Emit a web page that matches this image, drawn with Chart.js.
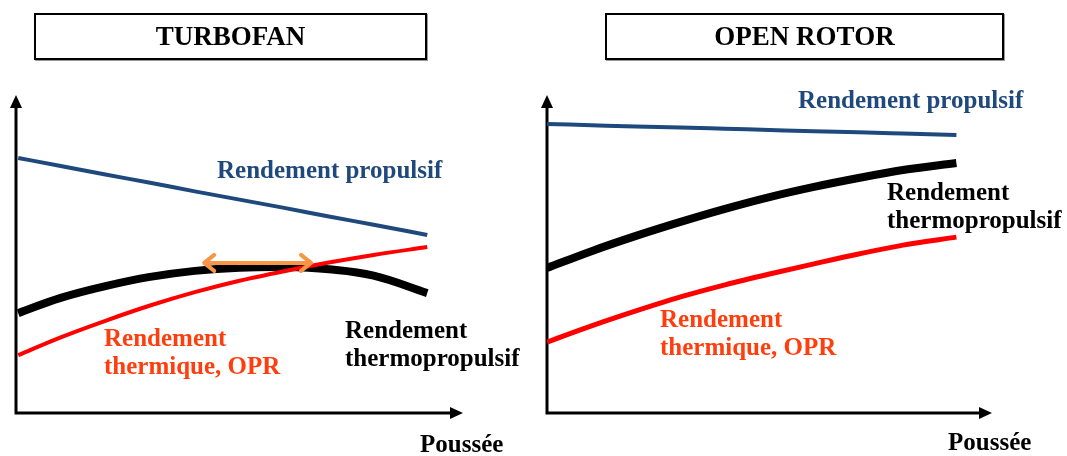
<!DOCTYPE html>
<html>
<head>
<meta charset="utf-8">
<script src="https://cdn.jsdelivr.net/npm/chart.js"></script>
<style>
  body { margin: 0; width: 1067px; height: 456px; overflow: hidden; background: #fff; position: relative; }
  canvas { position: absolute; top: 0; }
  .lbl { position: absolute; font-family: "Liberation Serif", "Times New Roman", serif; font-weight: bold; font-size: 25px; line-height: 28px; white-space: nowrap; }
  .box { position: absolute; top: 13px; height: 43px; border: 2px solid #000; display: flex; align-items: center; justify-content: center;
         font-family: "Liberation Serif", "Times New Roman", serif; font-weight: bold; font-size: 27px; box-shadow: 1px 1px 0 #999; }
</style>
</head>
<body>
<canvas id="turbofan" width="533" height="456" style="left:0"></canvas>
<canvas id="openRotor" width="534" height="456" style="left:533px"></canvas>

<div class="box" style="left:34px; width:389px;">TURBOFAN</div>
<div class="box" style="left:605px; width:395px;">OPEN ROTOR</div>

<div class="lbl" style="left:217px; top:156px; color:#1f497d;">Rendement propulsif</div>
<div class="lbl" style="left:104px; top:324px; color:#ff3d0d;">Rendement<br>thermique, OPR</div>
<div class="lbl" style="left:345px; top:316px; color:#000;">Rendement<br>thermopropulsif</div>
<div class="lbl" style="left:420px; top:430px; color:#000;">Poussée</div>

<div class="lbl" style="left:798px; top:86px; color:#1f497d;">Rendement propulsif</div>
<div class="lbl" style="left:887px; top:178px; color:#000;">Rendement<br>thermopropulsif</div>
<div class="lbl" style="left:660px; top:305px; color:#ff3d0d;">Rendement<br>thermique, OPR</div>
<div class="lbl" style="left:948px; top:428px; color:#000;">Poussée</div>

<script>
// poussée (arbitrary units 0-100) and efficiencies (0-100)
const poussee = [0.5, 10, 20, 30, 40, 50, 60, 70, 80, 92];

const tfPropulsif = [80.2, 77.7, 75.0, 72.4, 69.7, 67.1, 64.5, 61.8, 59.2, 56.0];
const tfThermique = [18.2, 23.8, 29.0, 33.8, 38.0, 41.6, 44.6, 47.3, 49.7, 52.2];
const tfThermoprop = [31.4, 36.2, 39.9, 42.8, 44.7, 45.7, 45.9, 45.2, 43.2, 37.7];

// optimum range arrow on the turbofan
const optimumX = [42.1, 66.0];
const optimumY = [47.2, 47.2];

const orPoussee = [0, 10, 20, 30, 40, 50, 60, 70, 80, 92];
const orPropulsif = [90.9, 90.5, 90.1, 89.8, 89.4, 89.0, 88.6, 88.3, 87.9, 87.4];
const orThermique = [22.3, 27.4, 32.1, 36.5, 40.3, 43.7, 46.9, 50.0, 52.8, 55.3];
const orThermoprop = [45.6, 50.9, 55.7, 60.1, 64.2, 67.9, 71.1, 73.9, 76.4, 78.6];

const pts = (xs, ys) => xs.map((x, i) => ({ x: x, y: ys[i] }));

// axes with arrow heads, drawn on the chart area edges
const arrowAxes = {
  id: "arrowAxes",
  beforeDatasetsDraw(chart) {
    const a = chart.chartArea;
    const ctx = chart.ctx;
    ctx.save();
    ctx.strokeStyle = "#000";
    ctx.fillStyle = "#000";
    ctx.lineWidth = 3;
    ctx.beginPath();
    ctx.moveTo(a.left, a.top + 10);
    ctx.lineTo(a.left, a.bottom);
    ctx.lineTo(a.right - 10, a.bottom);
    ctx.stroke();
    ctx.beginPath();
    ctx.moveTo(a.left, a.top);
    ctx.lineTo(a.left - 6, a.top + 13);
    ctx.lineTo(a.left + 6, a.top + 13);
    ctx.closePath();
    ctx.fill();
    ctx.beginPath();
    ctx.moveTo(a.right, a.bottom);
    ctx.lineTo(a.right - 13, a.bottom - 6);
    ctx.lineTo(a.right - 13, a.bottom + 6);
    ctx.closePath();
    ctx.fill();
    ctx.restore();
  },
  afterDatasetsDraw(chart) {
    const ctx = chart.ctx;
    chart.data.datasets.forEach((ds, i) => {
      if (!ds.doubleArrow) return;
      const p = chart.getDatasetMeta(i).data;
      const a = p[0], b = p[p.length - 1];
      ctx.save();
      ctx.strokeStyle = ds.borderColor;
      ctx.lineWidth = 4;
      ctx.lineCap = "round";
      ctx.lineJoin = "round";
      ctx.beginPath();
      ctx.moveTo(a.x + 10, a.y - 8);
      ctx.lineTo(a.x, a.y);
      ctx.lineTo(a.x + 10, a.y + 8);
      ctx.moveTo(b.x - 10, b.y - 8);
      ctx.lineTo(b.x, b.y);
      ctx.lineTo(b.x - 10, b.y + 8);
      ctx.stroke();
      ctx.restore();
    });
  }
};

const makeChart = (id, padding, datasets) => new Chart(document.getElementById(id), {
  type: "line",
  data: { datasets: datasets },
  options: {
    responsive: false,
    animation: false,
    layout: { padding: padding },
    elements: { point: { radius: 0 }, line: { cubicInterpolationMode: "monotone" } },
    plugins: { legend: { display: false }, tooltip: { enabled: false } },
    scales: {
      x: { type: "linear", min: 0, max: 100, display: false },
      y: { min: 0, max: 100, display: false }
    }
  },
  plugins: [arrowAxes]
});

makeChart("turbofan", { left: 16, right: 70, top: 95, bottom: 43 }, [
  { data: pts(optimumX, optimumY), borderColor: "#f79646", borderWidth: 4, doubleArrow: true, order: 0 },
  { data: pts(poussee, tfThermique), borderColor: "#ff0000", borderWidth: 4, order: 1 },
  // the thermopropulsive curve has a maximum, so plain bezier smoothing here
  { data: pts(poussee, tfThermoprop), borderColor: "#000000", borderWidth: 8, order: 2,
    cubicInterpolationMode: "default", tension: 0.4 },
  { data: pts(poussee, tfPropulsif), borderColor: "#1f497d", borderWidth: 4, order: 3 }
]);

makeChart("openRotor", { left: 14, right: 75, top: 95, bottom: 43 }, [
  { data: pts(orPoussee, orThermique), borderColor: "#ff0000", borderWidth: 5, order: 1 },
  { data: pts(orPoussee, orThermoprop), borderColor: "#000000", borderWidth: 8, order: 2 },
  { data: pts(orPoussee, orPropulsif), borderColor: "#1f497d", borderWidth: 4, order: 3 }
]);
</script>
</body>
</html>
